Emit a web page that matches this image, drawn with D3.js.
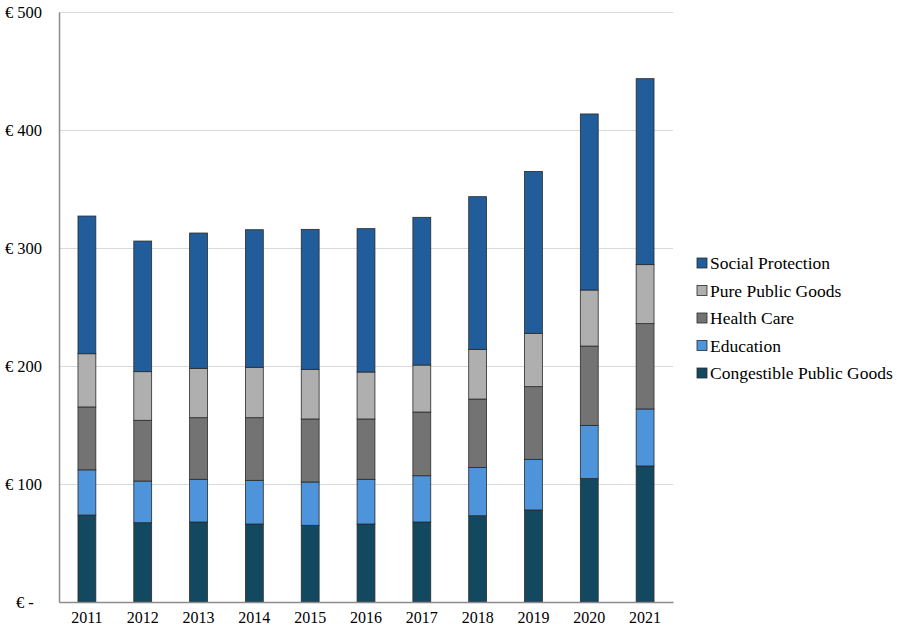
<!DOCTYPE html>
<html>
<head>
<meta charset="utf-8">
<script src="https://cdn.jsdelivr.net/npm/d3@7"></script>
<style>
  body { margin: 0; background: #fff; }
  text { font-family: "Liberation Serif", "Times New Roman", serif; fill: #000; }
</style>
</head>
<body>
<svg id="chart" width="897" height="627"></svg>
<script>
// data
var years = ['2011', '2012', '2013', '2014', '2015', '2016', '2017', '2018', '2019', '2020', '2021']
var congestible = [73.7, 67.2, 67.8, 66.1, 65.0, 66.1, 67.8, 73.1, 78.0, 104.6, 115.3]
var education = [38.3, 35.3, 36.2, 37.0, 36.7, 37.9, 39.2, 40.9, 42.9, 45.1, 48.3]
var healthCare = [53.3, 51.5, 52.2, 53.1, 53.4, 51.1, 54.0, 58.0, 61.6, 67.2, 72.3]
var purePublic = [45.1, 41.2, 41.8, 42.7, 42.1, 39.8, 39.8, 42.1, 45.2, 47.5, 50.0]
var socialProt = [116.7, 110.7, 114.7, 116.6, 118.6, 121.5, 125.2, 129.4, 137.2, 149.2, 157.6]
var yTicks = [0, 100, 200, 300, 400, 500]

// series in stacking order (bottom -> top)
var series = [
  {key: 'Congestible Public Goods', values: congestible, color: '#124961'},
  {key: 'Education', values: education, color: '#4d94db'},
  {key: 'Health Care', values: healthCare, color: '#737373'},
  {key: 'Pure Public Goods', values: purePublic, color: '#afafaf'},
  {key: 'Social Protection', values: socialProt, color: '#215d9a'}
]

var svg = d3.select('#chart')
var margin = {top: 12, left: 59, right: 224, bottom: 25}
var width = 897 - margin.left - margin.right
var height = 627 - margin.top - margin.bottom

var x = d3.scaleBand().domain(years).range([0, width]).paddingInner(0.68).paddingOuter(0.34)
var y = d3.scaleLinear().domain([0, 500]).range([height, 0])

var g = svg.append('g')
  .attr('transform', 'translate(' + margin.left + ',' + margin.top + ')')

// gridlines
g.selectAll('.grid').data(yTicks.filter((d) => d > 0)).enter().append('line')
  .attr('x1', 0).attr('x2', width)
  .attr('y1', (d) => Math.round(y(d)) + 0.5).attr('y2', (d) => Math.round(y(d)) + 0.5)
  .attr('stroke', '#d9d9d9').attr('stroke-width', 1)

// stacked data
var table = years.map(function (yr, i) {
  var o = {year: yr}
  series.forEach((s) => { o[s.key] = s.values[i] })
  return o
})
var stack = d3.stack().keys(series.map((s) => s.key))(table)

g.selectAll('.layer').data(stack).enter().append('g')
  .attr('fill', (d, i) => series[i].color)
  .selectAll('rect').data((d) => d).enter().append('rect')
    .attr('x', (d) => x(d.data.year))
    .attr('width', x.bandwidth())
    .attr('y', (d) => y(d[1]))
    .attr('height', (d) => y(d[0]) - y(d[1]))
    .attr('stroke', '#2a2a2a')
    .attr('stroke-width', 0.8)

// axes
var yAxis = d3.axisLeft(y).tickValues(yTicks).tickSize(0).tickPadding(17)
  .tickFormat((d) => d === 0 ? '\u20ac -\u2007' : '\u20ac ' + d)
var ya = g.append('g').call(yAxis)
ya.select('.domain').attr('stroke', '#8c8c8c').attr('stroke-width', 1.5)
ya.selectAll('text').style('font-size', '16.5px').attr('dy', '0.32em')

var xAxis = d3.axisBottom(x).tickSize(0).tickPadding(10)
var xa = g.append('g').attr('transform', 'translate(0,' + height + ')').call(xAxis)
xa.select('.domain').attr('stroke', '#8c8c8c').attr('stroke-width', 1.5)
xa.selectAll('text').style('font-size', '16px')

// legend (top to bottom: reverse stacking order)
var legend = svg.append('g').attr('transform', 'translate(697,258)')
var items = legend.selectAll('g').data(series.slice().reverse()).enter().append('g')
  .attr('transform', (d, i) => 'translate(0,' + (i * 27.5) + ')')
items.append('rect')
  .attr('width', 10).attr('height', 10)
  .attr('fill', (d) => d.color)
  .attr('stroke', '#2a2a2a').attr('stroke-width', 0.8)
items.append('text')
  .attr('x', 13).attr('y', 5).attr('dy', '0.35em')
  .style('font-size', '17.5px')
  .text((d) => d.key)
</script>
</body>
</html>
